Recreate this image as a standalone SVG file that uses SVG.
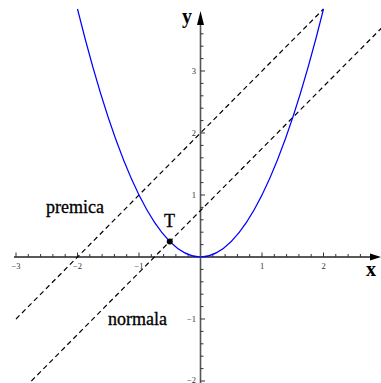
<svg xmlns="http://www.w3.org/2000/svg" width="381" height="383" viewBox="0 0 381 383">
<style>
.axis{stroke:#222;stroke-width:1.3;fill:none}
.yaxis{stroke:#555;stroke-width:1.6;fill:none}
.tick{stroke:#333;stroke-width:1;fill:none}
.tl{font-family:"Liberation Serif",serif;font-size:8.5px;fill:#333}
.lbl{font-family:"Liberation Serif",serif;font-size:18px;fill:#000;stroke:#000;stroke-width:0.3}
.ax{font-family:"Liberation Serif",serif;font-size:20px;font-weight:bold;fill:#000}
.dash{stroke:#000;stroke-width:1.2;stroke-dasharray:5 3.5;fill:none}
.curve{stroke:#0000ff;stroke-width:1.2;fill:none}
</style>
<rect width="381" height="383" fill="#fff"/>
<g id="axes">
<path class="axis" d="M14 257H372"/>
<polygon points="381,257 370,253.5 370,260.5" fill="#000"/>
<path class="yaxis" d="M200.5 383V24"/>
<polygon points="200.5,11 197,25 204,25" fill="#000"/>
<path class="tick" d="M16 257v-4.5M77.5 257v-4.5M139 257v-4.5M262 257v-4.5M323.5 257v-4.5M28.3 257v-3M40.6 257v-3M52.9 257v-3M65.2 257v-3M89.8 257v-3M102.1 257v-3M114.4 257v-3M126.7 257v-3M151.3 257v-3M163.6 257v-3M175.9 257v-3M188.2 257v-3M212.8 257v-3M225.1 257v-3M237.4 257v-3M249.7 257v-3M274.3 257v-3M286.6 257v-3M298.9 257v-3M311.2 257v-3M335.8 257v-3M348.1 257v-3M360.4 257v-3"/>
<path class="tick" d="M200.5 381h4.5M200.5 319h4.5M200.5 195h4.5M200.5 133h4.5M200.5 71h4.5M200.5 368.6h3M200.5 356.2h3M200.5 343.8h3M200.5 331.4h3M200.5 306.6h3M200.5 294.2h3M200.5 281.8h3M200.5 269.4h3M200.5 244.6h3M200.5 232.2h3M200.5 219.8h3M200.5 207.4h3M200.5 182.6h3M200.5 170.2h3M200.5 157.8h3M200.5 145.4h3M200.5 120.6h3M200.5 108.2h3M200.5 95.8h3M200.5 83.4h3M200.5 58.6h3M200.5 46.2h3M200.5 33.8h3"/>
<g class="tl" text-anchor="middle">
<text x="16" y="269">−3</text>
<text x="77.5" y="269">−2</text>
<text x="139" y="269">−1</text>
<text x="262" y="269">1</text>
<text x="323.5" y="269">2</text>
</g>
<g class="tl" text-anchor="end">
<text x="196" y="383">−2</text>
<text x="196" y="322">−1</text>
<text x="196" y="198">1</text>
<text x="196" y="136">2</text>
<text x="196" y="74">3</text>
</g>
<text class="ax" x="182" y="23">y</text>
<text class="ax" x="366" y="276">x</text>
</g>
<g id="connectors">
<path id="premica-line" class="dash" d="M16 319L323.5 9"/>
<path id="normala-line" class="dash" d="M31.4 381L385 24.5"/>
</g>
<g id="parabola">
<path class="curve" d="M77.5 9Q200.5 505 323.5 9"/>
</g>
<g id="point-T">
<circle cx="169.75" cy="241.5" r="3" fill="#000"/>
<text class="lbl" x="169.5" y="227" text-anchor="middle">T</text>
</g>
<g id="label-premica">
<text class="lbl" x="46" y="213">premica</text>
</g>
<g id="label-normala">
<text class="lbl" x="108" y="325">normala</text>
</g>
</svg>
